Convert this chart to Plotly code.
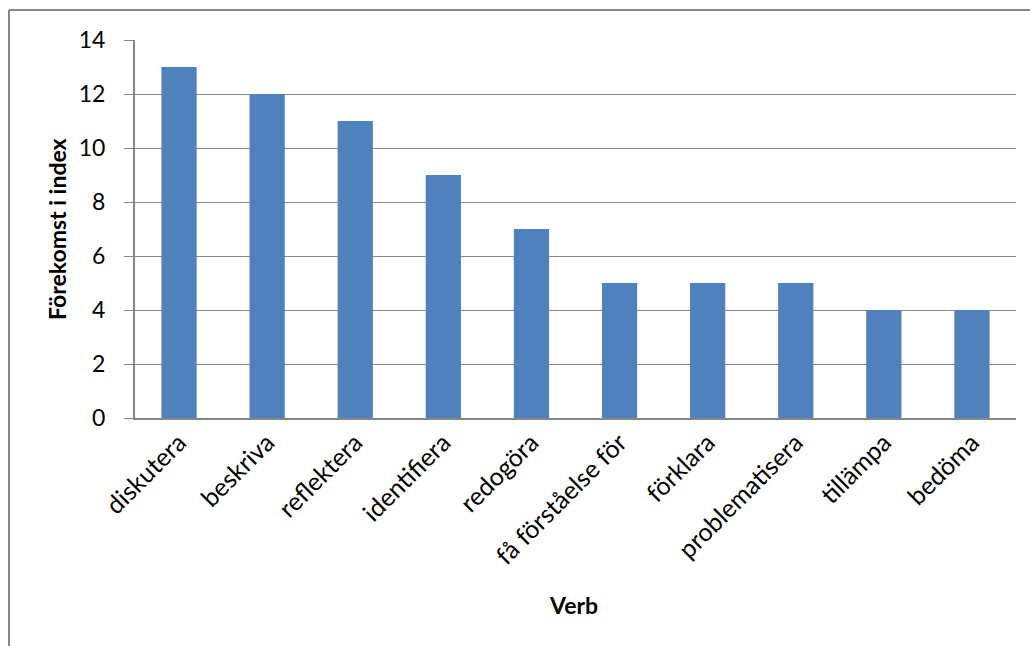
import plotly.graph_objects as go

categories = ["diskutera", "beskriva", "reflektera", "identifiera", "redogöra",
              "få förståelse för", "förklara", "problematisera", "tillämpa", "bedöma"]
values = [13, 12, 11, 9, 7, 5, 5, 5, 4, 4]
y_ticks = [0, 2, 4, 6, 8, 10, 12, 14]
x_title = "Verb"
y_title = "Förekomst i index"

W, H = 1030, 646
L, R, T, B = 135, 14, 40, 228
pw, ph = W - L - R, H - T - B
FONT = "Lato, Carlito, Calibri, sans-serif"

fig = go.Figure(go.Bar(x=categories, y=values, marker=dict(color="#4F81BD", line=dict(width=0)),
                       width=0.4))

bx0 = (9 - L) / pw
by1 = 1 + (T - 10) / ph
fig.update_layout(
    width=W, height=H,
    margin=dict(l=L, r=R, t=T, b=B),
    paper_bgcolor="white", plot_bgcolor="white",
    font=dict(family=FONT, size=22, color="black"),
    showlegend=False,
    shapes=[
        dict(type="line", xref="paper", yref="paper", x0=bx0, x1=bx0,
             y0=-(H + 30 - T - ph) / ph, y1=by1, line=dict(color="#868686", width=2), layer="below"),
        dict(type="line", xref="paper", yref="paper", x0=bx0, x1=(W + 30 - L) / pw,
             y0=by1, y1=by1, line=dict(color="#868686", width=2), layer="below"),
    ],
    annotations=[
        dict(text="<b>%s</b>" % x_title, xref="paper", yref="paper",
             x=(573 - L) / pw, y=-(605 - (T + ph)) / ph, xanchor="center", yanchor="middle",
             showarrow=False, font=dict(size=23, family=FONT)),
        dict(text="<b>%s</b>" % y_title, xref="paper", yref="paper",
             x=(57 - L) / pw, y=1 - (229 - T) / ph, xanchor="center", yanchor="middle",
             textangle=-90, showarrow=False, font=dict(size=23, family=FONT)),
    ],
)
fig.update_xaxes(
    tickangle=-45, showgrid=False, showline=True, linecolor="#868686", linewidth=2,
    ticks="", ticklabelstandoff=-2, tickfont=dict(size=25), automargin=False,
)
fig.update_yaxes(
    range=[0, 14], tickvals=y_ticks, showgrid=True, gridcolor="#868686", gridwidth=1,
    showline=True, linecolor="#868686", linewidth=2, ticks="outside", ticklen=9,
    tickcolor="#868686", ticklabelstandoff=14, zeroline=False, automargin=False,
    tickfont=dict(size=23),
)

fig.write_html("out.html")
